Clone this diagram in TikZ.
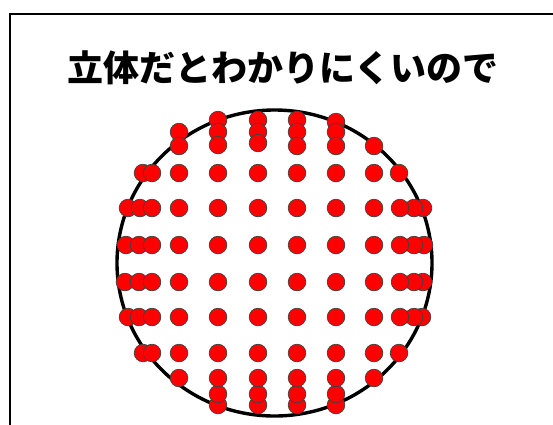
\documentclass[tikz,border=0pt]{standalone}
\usepackage{fontspec}
\newfontfamily\jpfont{Noto Sans CJK JP}
\begin{document}
\begin{tikzpicture}[x=1pt,y=-1pt,
  dot/.style={fill=red,draw=black!75,line width=0.7pt},
  frameline/.style={draw=black,line width=2pt},
  ballline/.style={draw=black,line width=3.4pt}]
\useasboundingbox (0,0) rectangle (553,424);
\clip (0,0) rectangle (553,424);
\fill[white] (0,0) rectangle (553,424);
\draw[frameline] (10,440) -- (10,14) -- (570,14);
\node[font=\jpfont\bfseries\fontsize{36}{42}\selectfont,anchor=center] (title) at (283,68) {立体だとわかりにくいので};
\draw[ballline] (274.5,263) ellipse [x radius=157.5, y radius=153];
\def\r{8.8}
% top clusters
\foreach \x/\ys in {218/{120,132,145},258/{120,132,143},297/{120,132,146},336/{122,132,146},179/{132,146},374/{146}}{
  \foreach \y in \ys {\draw[dot] (\x,\y) circle (\r);}
}
% bottom clusters
\foreach \x/\ys in {218/{405,394,378},258/{405,394,378},297/{405,394,378},336/{405,394,378},179/{378},374/{378}}{
  \foreach \y in \ys {\draw[dot] (\x,\y) circle (\r);}
}
% left clusters
\foreach \y/\xs in {173/{143,152},208/{128,140,152},245/{126,139,152},282/{125,139,152},317/{128,139,152},353/{143,152}}{
  \foreach \x in \xs {\draw[dot] (\x,\y) circle (\r);}
}
% right clusters
\foreach \y/\xs in {173/{399},208/{423,414,400},245/{424,414,400},282/{423,414,400},317/{422,414,400},353/{399}}{
  \foreach \x in \xs {\draw[dot] (\x,\y) circle (\r);}
}
% main grid
\foreach \y in {173,208,245,282,317,353}{
  \foreach \x in {179,218,258,297,336,374}{\draw[dot] (\x,\y) circle (\r);}
}
\end{tikzpicture}
\end{document}
